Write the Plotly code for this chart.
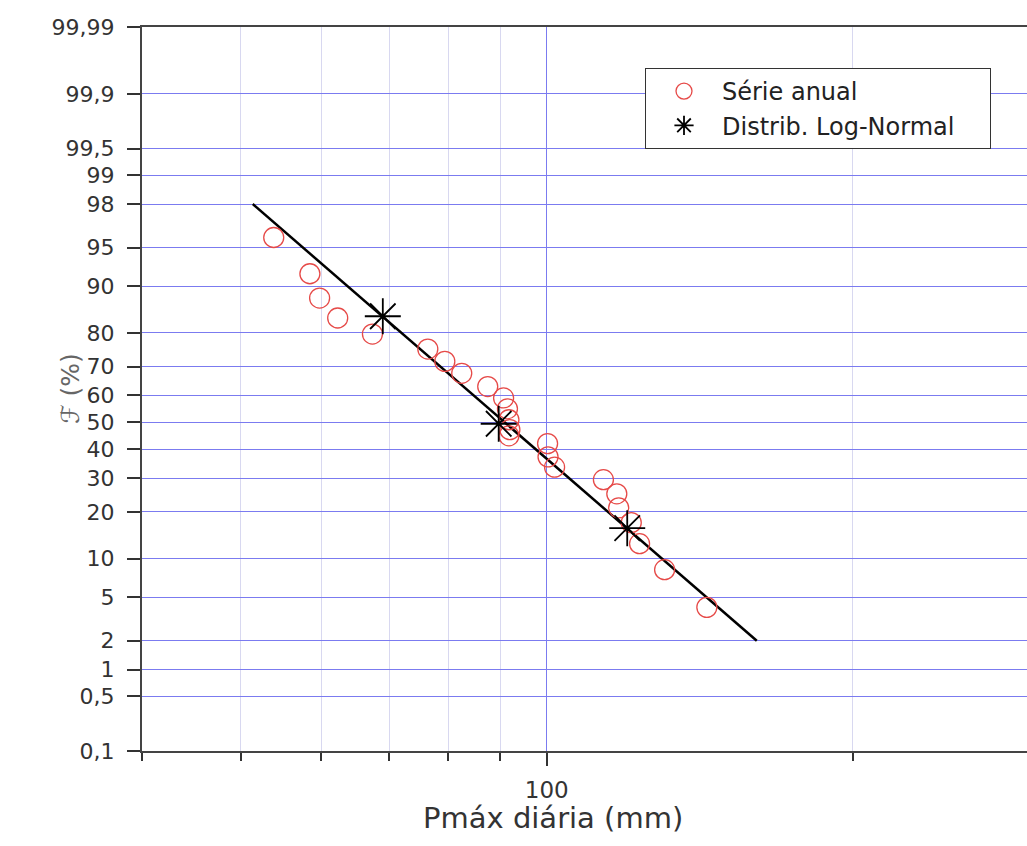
import statistics
import math
import plotly.graph_objects as go

# ---- data ----
serie_x = [53.9, 58.5, 59.8, 62.3, 67.4, 76.4, 79.4, 82.5, 87.5, 90.7, 91.5, 91.8,
           92.0, 91.8, 100.2, 100.3, 101.8, 113.7, 117.2, 117.7, 121.1, 123.4, 130.6, 143.7]
serie_F = [95.9, 91.9, 87.9, 83.7, 79.7, 75.5, 71.7, 67.8, 63.2, 59.1, 55.1, 51.0,
           47.3, 45.0, 42.1, 37.3, 33.7, 29.5, 25.1, 21.1, 17.3, 12.7, 8.3, 4.1]

lognorm_x = [69.0, 89.7, 120.0]
lognorm_F = [84.1, 49.5, 16.0]

fit_x = [51.4, 160.9]
fit_F = [98.0, 2.0]

y_tick_pct = [0.1, 0.5, 1, 2, 5, 10, 20, 30, 40, 50, 60, 70, 80, 90, 95, 98, 99, 99.5, 99.9, 99.99]
y_tick_text = ["0,1", "0,5", "1", "2", "5", "10", "20", "30", "40", "50", "60", "70",
               "80", "90", "95", "98", "99", "99,5", "99,9", "99,99"]
x_major = [100]
x_major_text = ["100"]
x_minor = [40, 50, 60, 70, 80, 90, 200]

# normal-probability scale transform
_nd = statistics.NormalDist()


def zscore(p):
    return _nd.inv_cdf(p / 100.0)


FONT = "DejaVu Sans"
NBSP = "\u00a0"

fig = go.Figure()

fig.add_trace(go.Scatter(
    x=fit_x, y=[zscore(p) for p in fit_F], mode="lines",
    line=dict(color="black", width=2.5), showlegend=False, hoverinfo="skip"))

fig.add_trace(go.Scatter(
    x=serie_x, y=[zscore(p) for p in serie_F], customdata=serie_F,
    mode="markers", name="Série anual",
    marker=dict(symbol="circle-open", size=20, color="#e64a48", line=dict(width=1.3)),
    hovertemplate="%{x} mm<br>%{customdata}%<extra></extra>"))

fig.add_trace(go.Scatter(
    x=lognorm_x, y=[zscore(p) for p in lognorm_F], customdata=lognorm_F,
    mode="markers", name="Distrib. Log-Normal" + NBSP * 4,
    marker=dict(symbol="asterisk-open", size=30, color="black", line=dict(width=1.8, color="black")),
    hovertemplate="%{x} mm<br>%{customdata}%<extra></extra>"))

x_lo = math.log10(40)
x_hi = x_lo + (1027 - 142) / 1017.0

fig.update_layout(
    width=1027, height=846,
    margin=dict(l=142, r=0, t=27, b=95),
    paper_bgcolor="white", plot_bgcolor="white",
    font=dict(family=FONT, color="#333333"),
    showlegend=True,
    legend=dict(
        x=(645 - 142) / 885, y=(751 - 68) / 724, xanchor="left", yanchor="top",
        bgcolor="white", bordercolor="#333333", borderwidth=1,
        font=dict(family=FONT, size=24, color="#222222"),
        itemwidth=66, tracegroupgap=0),
    xaxis=dict(
        type="log", range=[x_lo, x_hi],
        tickmode="array", tickvals=x_major, ticktext=x_major_text,
        ticks="outside", ticklen=13, tickwidth=1.5, tickcolor="#333333",
        tickfont=dict(family=FONT, size=23, color="#333333"),
        ticklabelstandoff=4,
        showline=True, linecolor="#444444", linewidth=2, mirror=True,
        showgrid=True, gridcolor="#7b7bf0", gridwidth=1,
        zeroline=False,
        minor=dict(tickmode="array", tickvals=x_minor, ticks="outside", ticklen=8,
                   tickwidth=1.5, tickcolor="#333333",
                   showgrid=True, gridcolor="#d8d8f0", gridwidth=1),
    ),
    yaxis=dict(
        range=[zscore(0.1), zscore(99.99)],
        tickmode="array", tickvals=[zscore(p) for p in y_tick_pct], ticktext=y_tick_text,
        ticks="outside", ticklen=13, tickwidth=1.5, tickcolor="#333333",
        tickfont=dict(family=FONT, size=22, color="#333333"),
        ticklabelstandoff=8,
        showline=True, linecolor="#444444", linewidth=2, mirror=False,
        showgrid=True, gridcolor="#7b7bf0", gridwidth=1,
        zeroline=False,
    ),
    annotations=[
        dict(text="Pmáx diária (mm)", xref="paper", yref="paper",
             x=(553 - 142) / 885, y=(751 - 818) / 724, xanchor="center", yanchor="middle",
             showarrow=False, font=dict(family=FONT, size=29, color="#333333")),
        dict(text="ℱ (%)", xref="paper", yref="paper",
             x=(70 - 142) / 885, y=(751 - 389) / 724, xanchor="center", yanchor="middle",
             textangle=-90, showarrow=False, font=dict(family=FONT, size=25, color="#666666")),
    ],
)

fig.write_html("out.html")
